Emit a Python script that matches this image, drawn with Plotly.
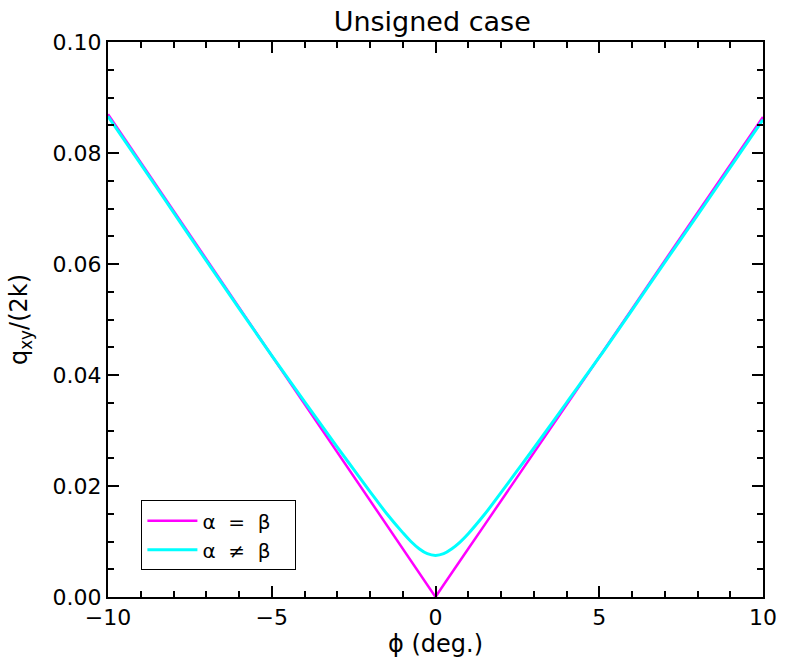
import plotly.graph_objects as go

# phi values (deg.)
phi = [-10, -9, -8, -7, -6, -5, -4, -3, -2.5, -2, -1.5, -1, -0.75, -0.5, -0.25, 0,
       0.25, 0.5, 0.75, 1, 1.5, 2, 2.5, 3, 4, 5, 6, 7, 8, 9, 10]
# alpha = beta (magenta)
q_equal = [0.0870, 0.0783, 0.0696, 0.0609, 0.0522, 0.0435, 0.0348, 0.0261, 0.0218, 0.0174,
           0.0131, 0.0087, 0.0065, 0.0044, 0.0022, 0.0000,
           0.0022, 0.0043, 0.0065, 0.0087, 0.0130, 0.0173, 0.0216, 0.0260, 0.0346, 0.0433,
           0.0519, 0.0606, 0.0692, 0.0779, 0.0865]
# alpha != beta (cyan)
q_unequal = [0.0866, 0.0780, 0.0693, 0.0606, 0.0520, 0.0435, 0.0352, 0.0270, 0.0230, 0.0190,
             0.0151, 0.0116, 0.0100, 0.0087, 0.0078, 0.0075,
             0.0078, 0.0087, 0.0099, 0.0114, 0.0149, 0.0188, 0.0228, 0.0268, 0.0350, 0.0432,
             0.0517, 0.0603, 0.0688, 0.0774, 0.0860]

x_ticks = [-10, -5, 0, 5, 10]
x_ticklabels = ["\u221210", "\u22125", "0", "5", "10"]
y_ticks = [0.00, 0.02, 0.04, 0.06, 0.08, 0.10]
y_ticklabels = ["0.00", "0.02", "0.04", "0.06", "0.08", "0.10"]

FONT = "DejaVu Sans"

fig = go.Figure()
fig.add_trace(go.Scatter(x=phi, y=q_equal, mode="lines", name="α  =  β\u00a0\u00a0\u00a0",
                         line=dict(color="#FF00FF", width=2.5)))
fig.add_trace(go.Scatter(x=phi, y=q_unequal, mode="lines", name="α  ≠  β\u00a0\u00a0\u00a0",
                         line=dict(color="#00FFFF", width=3, shape="spline")))

axis_common = dict(
    showgrid=False, zeroline=False, showline=True, linecolor="black", linewidth=2,
    mirror="ticks", ticks="inside", ticklen=11, tickwidth=2, tickcolor="black",
    tickfont=dict(family=FONT, size=22, color="black"),
)

fig.update_xaxes(range=[-10, 10], tickvals=x_ticks, ticktext=x_ticklabels,
                 minor=dict(dtick=1, ticks="inside", ticklen=6, tickwidth=2, tickcolor="black"),
                 title=dict(text="ϕ (deg.)", font=dict(family=FONT, size=24, color="black"), standoff=6),
                 **axis_common)
fig.update_yaxes(range=[0, 0.10], tickvals=y_ticks, ticktext=y_ticklabels,
                 minor=dict(dtick=0.005, ticks="inside", ticklen=6, tickwidth=2, tickcolor="black"),
                 title=dict(text="q<sub>xy</sub>/(2k)", font=dict(family=FONT, size=24, color="black"), standoff=18),
                 **axis_common)

fig.update_layout(
    width=789, height=665,
    margin=dict(l=108, r=13, t=42, b=64),
    paper_bgcolor="white", plot_bgcolor="white",
    title=dict(text="Unsigned case", x=0.495, xref="paper", xanchor="center",
               y=0.967, yanchor="middle",
               font=dict(family=FONT, size=27, color="black")),
    legend=dict(x=0.051, y=0.048, xanchor="left", yanchor="bottom",
                bgcolor="white", bordercolor="black", borderwidth=1,
                font=dict(family=FONT, size=20, color="black"),
                itemwidth=50, tracegroupgap=0),
    showlegend=True,
)

fig.write_html("out.html")
